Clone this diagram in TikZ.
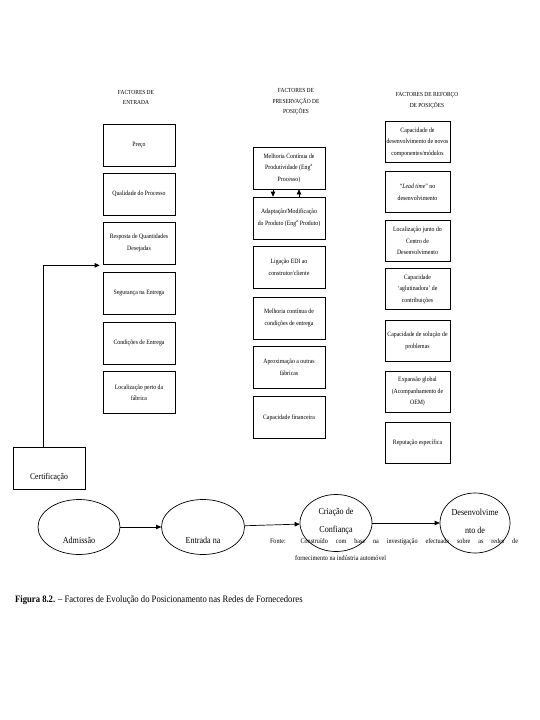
\documentclass[tikz,border=0pt]{standalone}
\usepackage{fontspec}
\setmainfont{Liberation Serif}[FakeStretch=0.88]
\usetikzlibrary{arrows.meta,shapes.geometric}
\begin{document}
\begin{tikzpicture}[x=1pt,y=-1pt,
 bx/.style={draw, line width=0.7pt, align=center, inner sep=0pt, font=\fontsize{6.6}{11.5}\selectfont},
 lbx/.style={bx, minimum width=72pt, minimum height=42pt},
 mbx/.style={bx, minimum width=72pt, minimum height=42pt},
 rbx/.style={bx, minimum width=65pt, minimum height=41pt},
 hd/.style={align=center, font=\fontsize{6.2}{10.5}\selectfont, inner sep=0pt},
 el/.style={draw, ellipse, line width=0.7pt, inner sep=0pt},
 et/.style={align=center, font=\fontsize{9.2}{18}\selectfont, inner sep=0pt},
 arr/.style={-{Triangle[length=5pt,width=4.5pt]}, line width=0.7pt}]
\useasboundingbox (0,0) rectangle (540,720);

% headers
\node[hd] (hl) at (136,97.5) {FACTORES DE\\ENTRADA};
\node[hd] (hm) at (296,102) {FACTORES DE\\PRESERVAÇÃO DE\\POSIÇÕES};
\node[hd] (hr) at (427,100.5) {FACTORES DE REFORÇO\\DE POSIÇÕES};

% left column
\node[lbx] (l1) at (139,145) {Preço};
\node[lbx] (l2) at (139,194) {Qualidade do Processo};
\node[lbx] (l3) at (139,243) {Resposta de Quantidades\\Desejadas};
\node[lbx] (l4) at (139,293.5) {Segurança na Entrega};
\node[lbx] (l5) at (139,343) {Condições de Entrega};
\node[lbx] (l6) at (139,392.5) {Localização perto da\\fábrica};

% middle column
\node[mbx] (m1) at (289,168) {Melhoria Contínua de\\Produtividade (Eng\textsuperscript{a}\\Processo)};
\node[mbx] (m2) at (289,218) {Adaptação/Modificação\\do Produto (Eng\textsuperscript{a} Produto)};
\node[mbx] (m3) at (289,267.5) {Ligação EDI ao\\construtor/cliente};
\node[mbx] (m4) at (289,318) {Melhoria contínua de\\condições de entrega};
\node[mbx] (m5) at (289,367.5) {Aproximação a outras\\fábricas};
\node[mbx] (m6) at (289,417.5) {Capacidade financeira};

\draw[arr] ([xshift=-16pt]m1.south) -- ([xshift=-16pt]m2.north);
\draw[arr] ([xshift=10pt]m2.north) -- ([xshift=10pt]m1.south);

% right column
\node[rbx] (r1) at (417.5,142) {Capacidade de\\desenvolvimento de novos\\componentes/módulos};
\node[rbx] (r2) at (417.5,192) {“\textit{Lead time}” no\\desenvolvimento};
\node[rbx] (r3) at (417.5,241) {Localização junto do\\Centro de\\Desenvolvimento};
\node[rbx] (r4) at (417.5,289) {Capacidade\\‘aglutinadora’ de\\contribuições};
\node[rbx] (r5) at (417.5,341) {Capacidade de solução de\\problemas};
\node[rbx] (r6) at (417.5,391.5) {Expansão global\\(Acompanhamento de\\OEM)};
\node[rbx] (r7) at (417.5,442.5) {Reputação específica};

% certification
\node[draw, line width=0.7pt, minimum width=72pt, minimum height=42pt, inner sep=0pt] (cert) at (49,468) {};
\node[font=\fontsize{8.8}{10}\selectfont, inner sep=0pt] (certt) at (49,477) {Certificação};
\draw[arr] ([xshift=-6pt]cert.north) |- ([xshift=-3pt,yshift=-1pt]l3.south west);

% ellipses
\node[el, minimum width=82pt, minimum height=55pt] (e1) at (79,527) {};
\node[el, minimum width=83pt, minimum height=55pt] (e2) at (203,527) {};
\node[el, minimum width=72pt, minimum height=57pt] (e3) at (336,523) {};
\node[el, minimum width=70pt, minimum height=60pt] (e4) at (475,523) {};
\node[et] (t1) at (79,540) {Admissão};
\node[et] (t2) at (203,540) {Entrada na};
\node[et] (t3) at (336,521) {Criação de\\Confiança};
\node[et] (t4) at (475,521) {Desenvolvime\\nto de};
\draw[arr] (e1) -- (e2);
\draw[arr] (e2) -- (e3);
\draw[arr] (e3) -- (e4);

% source
\node[inner sep=0pt, font=\fontsize{7}{8}\selectfont] (src1) at (394,542)
  {\makebox[248pt][s]{Fonte: Construído com base na investigação efectuada sobre as redes de}};
\node[inner sep=0pt, anchor=west, font=\fontsize{7}{8}\selectfont] (src2) at (295,558)
  {fornecimento na indústria automóvel};

% caption
\node[inner sep=0pt, anchor=west, font=\fontsize{9.8}{11}\selectfont] (cap) at (15,600)
  {\textbf{Figura 8.2.} – Factores de Evolução do Posicionamento nas Redes de Fornecedores};
\end{tikzpicture}
\end{document}
